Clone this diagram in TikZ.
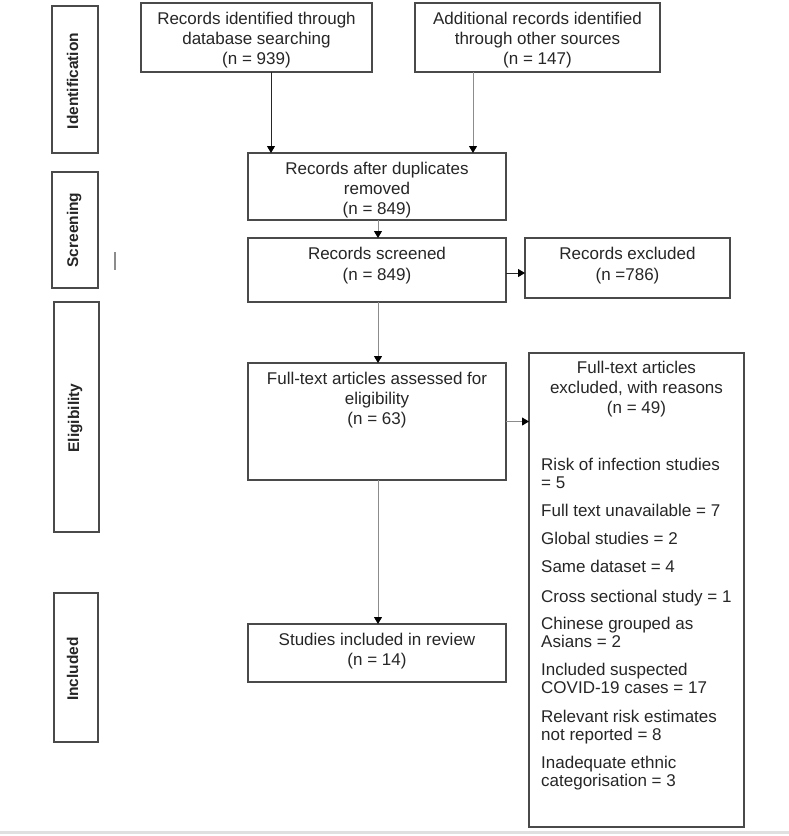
\documentclass[tikz,border=0pt]{standalone}
\usepackage{fontspec}
\setmainfont{Liberation Sans}
\usetikzlibrary{arrows.meta}
\definecolor{boxline}{HTML}{4A4A4A}
\definecolor{txt}{HTML}{262626}
\definecolor{arrline}{HTML}{8C8C8C}
\tikzset{
  box/.style={draw=boxline, line width=1.3pt, inner sep=0pt, outer sep=0pt, rectangle},
  lbl/.style={font=\fontsize{17}{20}\selectfont, text=txt, align=center, inner sep=0pt, anchor=north},
  item/.style={font=\fontsize{17}{18}\selectfont, text=txt, align=left, inner sep=0pt, anchor=north west},
  phase/.style={font=\fontsize{15.5}{18}\selectfont\bfseries, text=txt, inner sep=0pt, rotate=90, anchor=base},
  arr/.style={draw=arrline, line width=1pt, -{Triangle[width=8pt,length=7pt,color=black]}},
  arrdark/.style={arr, draw=black!85}
}
\begin{document}
\begin{tikzpicture}[x=1pt,y=-1pt]
\useasboundingbox (0,0) rectangle (789,836);
\fill[white] (0,0) rectangle (789,836);
% bottom separator
\draw[black!12, line width=3pt] (0,832) -- (789,832);
% phase boxes
\node[box, minimum width=46pt, minimum height=147pt] (sid) at (75,79.5) {};
\node[box, minimum width=46pt, minimum height=116pt] (ssc) at (75,230) {};
\node[box, minimum width=45pt, minimum height=230pt] (sel) at (76.5,417) {};
\node[box, minimum width=44pt, minimum height=149pt] (sin) at (76,667.5) {};
\node[phase] (lid) at (78,81) {Identification};
\node[phase] (lsc) at (78,230) {Screening};
\node[phase] (lel) at (79,418) {Eligibility};
\node[phase] (lin) at (78,669) {Included};
% stray mark
\draw[black!45, line width=1.2pt] (115,252) -- (115,270);
% main boxes
\node[box, minimum width=231pt, minimum height=69pt] (db) at (256.5,37.5) {};
\node[box, minimum width=245pt, minimum height=69pt] (oth) at (537.5,37.5) {};
\node[box, minimum width=258pt, minimum height=67pt] (dup) at (377,186.5) {};
\node[box, minimum width=258pt, minimum height=64pt] (scr) at (377,270) {};
\node[box, minimum width=205pt, minimum height=60pt] (exc) at (627.5,268) {};
\node[box, minimum width=258pt, minimum height=117pt] (ft) at (377,421.5) {};
\node[box, minimum width=215pt, minimum height=474pt] (ftx) at (636.5,590) {};
\node[box, minimum width=258pt, minimum height=58pt] (st) at (377,653) {};
% box texts
\node[lbl] (tdb) at ([yshift=-8.5pt]db.north) {Records identified through\\database searching\\(n = 939)};
\node[lbl] (toth) at ([yshift=-8.5pt]oth.north) {Additional records identified\\through other sources\\(n = 147)};
\node[lbl] (tdup) at ([yshift=-8.5pt]dup.north) {Records after duplicates\\removed\\(n = 849)};
\node[lbl, font=\fontsize{17}{21}\selectfont] (tscr) at ([yshift=-8.5pt]scr.north) {Records screened\\(n = 849)};
\node[lbl, font=\fontsize{17}{21}\selectfont] (texc) at ([yshift=-8.5pt]exc.north) {Records excluded\\(n =786)};
\node[lbl] (tft) at ([yshift=-8.5pt]ft.north) {Full-text articles assessed for\\eligibility\\(n = 63)};
\node[lbl] (tst) at ([yshift=-8.5pt]st.north) {Studies included in review\\(n = 14)};
\node[lbl] (tftx) at ([yshift=-8pt]ftx.north) {Full-text articles\\excluded, with reasons\\(n = 49)};
% reasons
\node[item] (r1) at (541,458) {Risk of infection studies\\= 5};
\node[item] (r2) at (541,504) {Full text unavailable = 7};
\node[item] (r3) at (541,532) {Global studies = 2};
\node[item] (r4) at (541,560) {Same dataset = 4};
\node[item] (r5) at (541,590) {Cross sectional study = 1};
\node[item] (r6) at (541,617) {Chinese grouped as\\Asians = 2};
\node[item] (r7) at (541,663) {Included suspected\\COVID-19 cases = 17};
\node[item] (r8) at (541,710) {Relevant risk estimates\\not reported = 8};
\node[item] (r9) at (541,756) {Inadequate ethnic\\categorisation = 3};
% connectors
\draw[arrdark] ([xshift=14.5pt]db.south) -- ([xshift=14.5pt]db.south |- dup.north);
\draw[arr] ([xshift=-64.5pt]oth.south) -- ([xshift=-64.5pt]oth.south |- dup.north);
\draw[arr] ([xshift=1pt]dup.south) -- ([xshift=1pt]scr.north);
\draw[arrdark] ([yshift=-3pt]scr.east) -- ([yshift=-3pt]scr.east -| exc.west);
\draw[arr] ([xshift=1pt]scr.south) -- ([xshift=1pt]ft.north);
\draw[arr] (ft.east) -- (ft.east -| ftx.west);
\draw[arr] ([xshift=1pt]ft.south) -- ([xshift=1pt]st.north);
\end{tikzpicture}
\end{document}
